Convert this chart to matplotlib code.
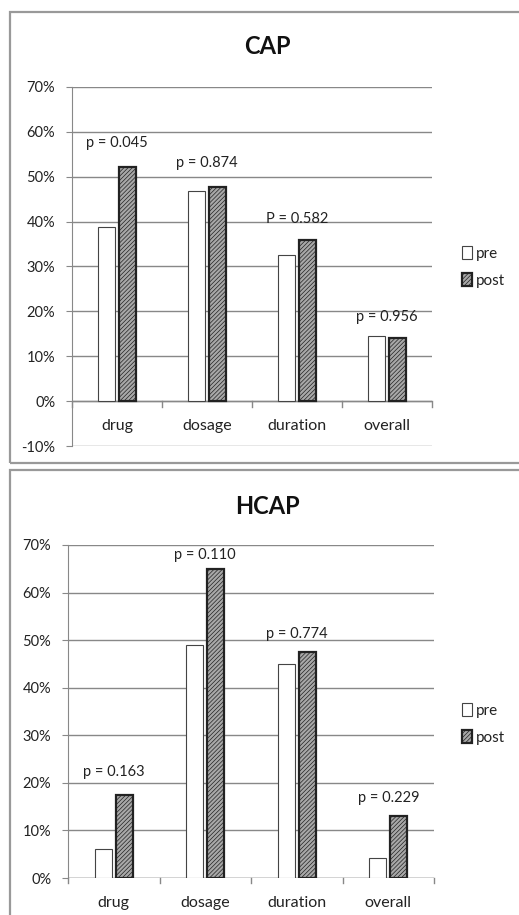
import numpy as np
import matplotlib.pyplot as plt
from matplotlib.patches import Rectangle

plt.rcParams['font.family'] = ['Lato', 'DejaVu Sans']
plt.rcParams['hatch.color'] = '#8a8a8a'
plt.rcParams['hatch.linewidth'] = 0.5

categories = ['drug', 'dosage', 'duration', 'overall']

# CAP
cap_pre = [38.8, 46.9, 32.5, 14.5]
cap_post = [52.1, 47.8, 35.9, 14.0]
cap_p = ['p = 0.045', 'p = 0.874', 'P = 0.582', 'p = 0.956']
cap_p_y = [57.5, 53.0, 40.6, 18.7]

# HCAP
hcap_pre = [6.1, 49.0, 44.9, 4.1]
hcap_post = [17.4, 64.9, 47.5, 13.1]
hcap_p = ['p = 0.163', 'p = 0.110', 'p = 0.774', 'p = 0.229']
hcap_p_y = [22.3, 67.8, 51.3, 16.9]

W, H = 519, 915
fig = plt.figure(figsize=(W / 100, H / 100), dpi=100)

# panel frames
for (y0, y1) in [(12, 463), (470, 930)]:
    fig.patches.append(Rectangle((10 / W, 1 - y1 / H), 520 / W, (y1 - y0) / H,
                                 transform=fig.transFigure, fill=False,
                                 edgecolor='#999999', linewidth=1.6))


def draw_panel(ax, title, pre, post, plabels, py, ymin, title_y, leg_y):
    x = np.arange(len(categories))
    ax.bar(x - 0.115, pre, width=0.19, color='white', edgecolor='#444444',
           linewidth=0.8, label='pre', zorder=3)
    ax.bar(x + 0.115, post, width=0.19, color='#a8a8a8', edgecolor='#222222',
           linewidth=1.6, hatch='////////', label='post', zorder=3)
    for i, t in enumerate(plabels):
        ax.text(x[i], py[i], t, ha='center', va='center', fontsize=10.5, color='#222222')
    ax.set_xlim(-0.5, 3.5)
    ax.set_ylim(ymin, 70)
    ticks = np.arange(ymin, 71, 10)
    ax.set_yticks(ticks)
    ax.set_yticklabels(['%d%%' % t for t in ticks], fontsize=10.5, color='#222222')
    ax.yaxis.grid(True, color='#888888', linewidth=1.0)
    ax.set_axisbelow(True)
    ax.set_xticks([])
    for s in ['top', 'right', 'bottom']:
        ax.spines[s].set_visible(False)
    ax.spines['left'].set_color('#888888')
    ax.tick_params(axis='y', length=4, color='#888888', pad=8)
    # category axis at zero
    ax.axhline(0, color='#888888', linewidth=1.0, zorder=2)
    for b in np.arange(-0.5, 4.0, 1.0):
        ax.plot([b, b], [0, -1.2 * (70 - ymin) / 80], color='#888888',
                linewidth=1.0, clip_on=False)
    for i, c in enumerate(categories):
        ax.annotate(c, (x[i], 0), xytext=(0, -18), textcoords='offset points',
                    ha='center', va='center', fontsize=11.5, color='#222222',
                    annotation_clip=False)
    fig.text(267 / W, 1 - title_y / H, title, ha='center', va='center',
             fontsize=17, fontweight='bold', color='#111111')
    leg = fig.legend(handles=ax.patches[:1] + ax.patches[4:5], labels=['pre', 'post'],
                     loc='center left', bbox_to_anchor=(448 / W, 1 - leg_y / H),
                     frameon=False, fontsize=11, handlelength=0.7,
                     handleheight=0.9, handletextpad=0.2, labelspacing=0.8)
    for t in leg.get_texts():
        t.set_color('#222222')


ax1 = fig.add_axes([72 / W, 1 - 446 / H, 360 / W, (446 - 87) / H])
draw_panel(ax1, 'CAP', cap_pre, cap_post, cap_p, cap_p_y, -10, 47, 267)

ax2 = fig.add_axes([68 / W, 1 - 878 / H, 366 / W, (878 - 545) / H])
draw_panel(ax2, 'HCAP', hcap_pre, hcap_post, hcap_p, hcap_p_y, 0, 507, 724)

fig.savefig('out.png', dpi=100)
